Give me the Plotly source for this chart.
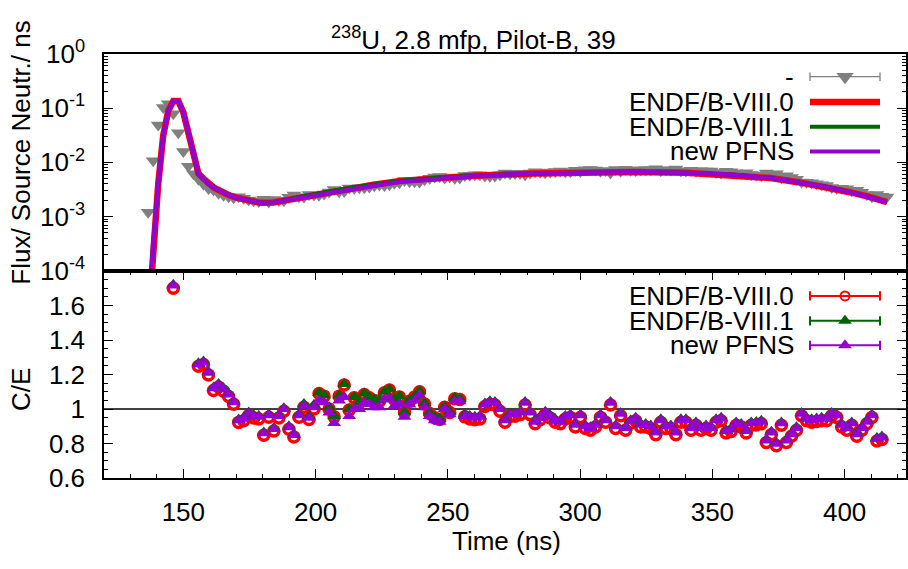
import plotly.graph_objects as go

W, H = 908, 569
FONT = "Liberation Sans, Arial, Helvetica, sans-serif"
FS = 26

# ---------------- data ----------------
# measured time spectrum (time bin centre, ns) and flux per source neutron per ns
T_EXP = [
    136.7, 138.6, 140.5, 142.4, 144.3, 146.2, 148.1, 150.0, 151.9, 153.8,
    155.7, 157.6, 159.5, 161.4, 163.3, 165.2, 167.1, 169.0, 170.9, 172.8,
    174.7, 176.6, 178.5, 180.4, 182.3, 184.2, 186.1, 188.0, 189.9, 191.8,
    193.7, 195.6, 197.5, 199.4, 201.3, 203.2, 205.1, 207.0, 208.9, 210.8,
    212.7, 214.6, 216.5, 218.4, 220.3, 222.2, 224.1, 226.0, 227.9, 229.8,
    231.7, 233.6, 235.5, 237.4, 239.3, 241.2, 243.1, 245.0, 246.9, 248.8,
    250.7, 252.6, 254.5, 256.4, 258.3, 260.2, 262.1, 264.0, 265.9, 267.8,
    269.7, 271.6, 273.5, 275.4, 277.3, 279.2, 281.1, 283.0, 284.9, 286.8,
    288.7, 290.6, 292.5, 294.4, 296.3, 298.2, 300.1, 302.0, 303.9, 305.8,
    307.7, 309.6, 311.5, 313.4, 315.3, 317.2, 319.1, 321.0, 322.9, 324.8,
    326.7, 328.6, 330.5, 332.4, 334.3, 336.2, 338.1, 340.0, 341.9, 343.8,
    345.7, 347.6, 349.5, 351.4, 353.3, 355.2, 357.1, 359.0, 360.9, 362.8,
    364.7, 366.6, 368.5, 370.4, 372.3, 374.2, 376.1, 378.0, 379.9, 381.8,
    383.7, 385.6, 387.5, 389.4, 391.3, 393.2, 395.1, 397.0, 398.9, 400.8,
    402.7, 404.6, 406.5, 408.4, 410.3, 412.2, 414.1, 416.0,
]
EXP = [
    1.2e-3, 1.07e-2, 4.9e-2, 0.102, 0.12, 0.079, 0.035, 0.0158, 8.5e-3, 6.2e-3,
    4.9e-3, 3.94e-3, 3.29e-3, 3.10e-3, 2.71e-3, 2.47e-3, 2.32e-3, 2.22e-3, 2.33e-3, 2.19e-3,
    2.02e-3, 1.97e-3, 1.90e-3, 2.09e-3, 1.87e-3, 2.07e-3, 1.98e-3, 1.96e-3, 2.28e-3, 2.51e-3,
    2.32e-3, 2.30e-3, 2.56e-3, 2.50e-3, 2.49e-3, 2.60e-3, 2.86e-3, 3.16e-3, 2.87e-3, 2.92e-3,
    3.36e-3, 3.32e-3, 3.41e-3, 3.40e-3, 3.52e-3, 3.69e-3, 3.81e-3, 3.76e-3, 3.85e-3, 4.13e-3,
    4.22e-3, 4.65e-3, 4.41e-3, 4.40e-3, 4.37e-3, 4.77e-3, 5.11e-3, 5.35e-3, 5.48e-3, 5.16e-3,
    5.40e-3, 5.08e-3, 5.16e-3, 5.70e-3, 5.81e-3, 5.93e-3, 5.94e-3, 5.58e-3, 5.56e-3, 5.63e-3,
    5.89e-3, 6.35e-3, 6.18e-3, 6.23e-3, 6.22e-3, 5.94e-3, 6.34e-3, 6.75e-3, 6.61e-3, 6.44e-3,
    6.62e-3, 6.82e-3, 6.92e-3, 6.75e-3, 6.71e-3, 7.15e-3, 6.78e-3, 7.28e-3, 7.38e-3, 7.23e-3,
    6.84e-3, 7.06e-3, 6.39e-3, 7.38e-3, 6.84e-3, 7.49e-3, 7.19e-3, 7.06e-3, 7.32e-3, 7.28e-3,
    7.34e-3, 7.63e-3, 7.01e-3, 7.28e-3, 7.24e-3, 7.52e-3, 6.92e-3, 6.90e-3, 7.19e-3, 6.90e-3,
    7.04e-3, 6.90e-3, 6.91e-3, 6.51e-3, 6.38e-3, 6.84e-3, 6.70e-3, 6.35e-3, 6.30e-3, 6.43e-3,
    6.00e-3, 5.88e-3, 5.73e-3, 6.37e-3, 5.91e-3, 6.18e-3, 5.21e-3, 5.66e-3, 5.26e-3, 4.89e-3,
    4.33e-3, 4.30e-3, 4.19e-3, 4.04e-3, 3.88e-3, 3.74e-3, 3.46e-3, 3.33e-3, 3.35e-3, 3.26e-3,
    3.01e-3, 3.08e-3, 2.82e-3, 2.57e-3, 2.33e-3, 2.55e-3, 2.37e-3, 2.30e-3,
]

# calculated spectra
T_CALC = [
    136.7, 138.6, 140.5, 142.4, 144.3, 146.2, 148.1, 150.0, 151.9, 153.8,
    155.7, 157.6, 159.5, 161.4, 163.3, 165.2, 167.1, 170.0, 174.0, 179.0,
    184.0, 190.0, 196.0, 203.0, 213.0, 222.0, 232.0, 245.0, 260.0, 282.0,
    300.0, 320.0, 340.0, 358.0, 372.0, 383.0, 393.0, 402.0, 409.0, 416.0,
]
CALC_B80 = [
    1.0e-5, 3.16e-4, 3.98e-3, 3.16e-2, 8.91e-2, 0.135, 0.135, 8.32e-2, 3.55e-2, 1.41e-2,
    6.2e-3, 5.01e-3, 3.98e-3, 3.47e-3, 3.09e-3, 2.75e-3, 2.51e-3, 2.24e-3, 2.00e-3, 1.80e-3,
    1.82e-3, 2.05e-3, 2.40e-3, 2.78e-3, 3.40e-3, 3.88e-3, 4.56e-3, 5.13e-3, 5.66e-3, 6.24e-3,
    6.53e-3, 6.68e-3, 6.46e-3, 5.89e-3, 5.13e-3, 4.27e-3, 3.55e-3, 2.82e-3, 2.34e-3, 1.86e-3,
]
CALC_B81 = [
    1.0e-5, 3.16e-4, 3.98e-3, 3.16e-2, 8.91e-2, 0.135, 0.135, 8.32e-2, 3.55e-2, 1.41e-2,
    6.2e-3, 5.01e-3, 3.98e-3, 3.47e-3, 3.09e-3, 2.75e-3, 2.51e-3, 2.24e-3, 2.00e-3, 1.80e-3,
    1.82e-3, 2.05e-3, 2.40e-3, 2.80e-3, 3.42e-3, 3.90e-3, 4.58e-3, 5.15e-3, 5.68e-3, 6.25e-3,
    6.54e-3, 6.69e-3, 6.47e-3, 5.90e-3, 5.14e-3, 4.28e-3, 3.56e-3, 2.83e-3, 2.35e-3, 1.87e-3,
]
CALC_NEW = [
    1.0e-5, 3.16e-4, 3.98e-3, 3.16e-2, 8.91e-2, 0.135, 0.135, 8.32e-2, 3.55e-2, 1.41e-2,
    6.2e-3, 5.01e-3, 3.98e-3, 3.47e-3, 3.09e-3, 2.75e-3, 2.51e-3, 2.24e-3, 2.00e-3, 1.80e-3,
    1.82e-3, 2.04e-3, 2.37e-3, 2.69e-3, 3.24e-3, 3.72e-3, 4.37e-3, 5.01e-3, 5.62e-3, 6.24e-3,
    6.53e-3, 6.68e-3, 6.46e-3, 5.89e-3, 5.13e-3, 4.27e-3, 3.55e-3, 2.82e-3, 2.34e-3, 1.86e-3,
]

# calculation / experiment ratios
T_CE = [
    146.2,
    155.7, 157.6, 159.5, 161.4, 163.3, 165.2, 167.1, 169.0, 170.9, 172.8,
    174.7, 176.6, 178.5, 180.4, 182.3, 184.2, 186.1, 188.0, 189.9, 191.8,
    193.7, 195.6, 197.5, 199.4, 201.3, 203.2, 205.1, 207.0, 208.9, 210.8,
    212.7, 214.6, 216.5, 218.4, 220.3, 222.2, 224.1, 226.0, 227.9, 229.8,
    231.7, 233.6, 235.5, 237.4, 239.3, 241.2, 243.1, 245.0, 246.9, 248.8,
    250.7, 252.6, 254.5, 256.4, 258.3, 260.2, 262.1, 264.0, 265.9, 267.8,
    269.7, 271.6, 273.5, 275.4, 277.3, 279.2, 281.1, 283.0, 284.9, 286.8,
    288.7, 290.6, 292.5, 294.4, 296.3, 298.2, 300.1, 302.0, 303.9, 305.8,
    307.7, 309.6, 311.5, 313.4, 315.3, 317.2, 319.1, 321.0, 322.9, 324.8,
    326.7, 328.6, 330.5, 332.4, 334.3, 336.2, 338.1, 340.0, 341.9, 343.8,
    345.7, 347.6, 349.5, 351.4, 353.3, 355.2, 357.1, 359.0, 360.9, 362.8,
    364.7, 366.6, 368.5, 370.4, 372.3, 374.2, 376.1, 378.0, 379.9, 381.8,
    383.7, 385.6, 387.5, 389.4, 391.3, 393.2, 395.1, 397.0, 398.9, 400.8,
    402.7, 404.6, 406.5, 408.4, 410.3, 412.2, 414.1,
]
CE_B80 = [
    1.70,
    1.248, 1.258, 1.198, 1.108, 1.128, 1.103, 1.073, 1.028, 0.923, 0.933,
    0.963, 0.948, 0.943, 0.848, 0.953, 0.873, 0.948, 0.988, 0.883, 0.838,
    0.953, 1.01, 0.94, 1.0, 1.09, 1.075, 1.0, 0.955, 1.075, 1.14,
    0.995, 1.065, 1.035, 1.085, 1.065, 1.05, 1.045, 1.095, 1.11, 1.055,
    1.07, 0.98, 1.045, 1.07, 1.1, 1.03, 0.975, 0.95, 0.94, 1.01,
    0.98, 1.06, 1.055, 0.955, 0.943, 0.938, 0.943, 1.015, 1.028, 1.024,
    0.988, 0.924, 0.958, 0.958, 0.968, 1.024, 0.968, 0.915, 0.938, 0.968,
    0.948, 0.924, 0.915, 0.943, 0.952, 0.897, 0.952, 0.888, 0.878, 0.897,
    0.952, 0.924, 1.024, 0.888, 0.961, 0.878, 0.918, 0.933, 0.897, 0.897,
    0.888, 0.852, 0.924, 0.888, 0.888, 0.852, 0.924, 0.924, 0.878, 0.906,
    0.878, 0.888, 0.878, 0.924, 0.933, 0.861, 0.87, 0.906, 0.897, 0.861,
    0.906, 0.908, 0.915, 0.806, 0.852, 0.788, 0.906, 0.806, 0.843, 0.878,
    0.961, 0.933, 0.924, 0.928, 0.933, 0.933, 0.961, 0.952, 0.897, 0.878,
    0.906, 0.843, 0.878, 0.915, 0.952, 0.815, 0.824,
]
CE_B81 = [
    1.72,
    1.265, 1.275, 1.215, 1.125, 1.145, 1.12, 1.09, 1.045, 0.94, 0.95,
    0.98, 0.965, 0.96, 0.865, 0.97, 0.89, 0.965, 1.005, 0.9, 0.855,
    0.97, 1.03, 0.96, 1.025, 1.095, 1.08, 1.01, 0.96, 1.08, 1.145,
    1.0, 1.07, 1.04, 1.09, 1.07, 1.055, 1.05, 1.10, 1.115, 1.06,
    1.075, 0.985, 1.05, 1.075, 1.105, 1.035, 0.98, 0.955, 0.945, 1.015,
    0.985, 1.065, 1.06, 0.97, 0.96, 0.955, 0.96, 1.032, 1.045, 1.041,
    1.005, 0.941, 0.975, 0.975, 0.985, 1.041, 0.985, 0.932, 0.955, 0.985,
    0.965, 0.941, 0.932, 0.96, 0.969, 0.914, 0.969, 0.905, 0.895, 0.914,
    0.969, 0.941, 1.041, 0.905, 0.978, 0.895, 0.935, 0.95, 0.914, 0.914,
    0.905, 0.869, 0.941, 0.905, 0.905, 0.869, 0.941, 0.941, 0.895, 0.923,
    0.895, 0.905, 0.895, 0.941, 0.95, 0.878, 0.887, 0.923, 0.914, 0.878,
    0.923, 0.925, 0.932, 0.823, 0.869, 0.805, 0.923, 0.823, 0.86, 0.895,
    0.978, 0.95, 0.941, 0.945, 0.95, 0.95, 0.978, 0.969, 0.914, 0.895,
    0.923, 0.86, 0.895, 0.932, 0.969, 0.832, 0.841,
]
CE_NEW = [
    1.715,
    1.26, 1.27, 1.21, 1.12, 1.14, 1.115, 1.085, 1.04, 0.935, 0.945,
    0.975, 0.96, 0.955, 0.86, 0.965, 0.885, 0.96, 1.0, 0.895, 0.85,
    0.965, 1.02, 0.95, 1.01, 1.05, 1.04, 0.98, 0.92, 1.05, 1.07,
    0.96, 1.0, 1.0, 1.035, 1.03, 1.01, 1.01, 1.055, 1.06, 1.02,
    1.03, 0.955, 1.027, 1.05, 1.08, 1.01, 0.96, 0.936, 0.927, 1.0,
    0.97, 1.045, 1.045, 0.96, 0.955, 0.95, 0.955, 1.027, 1.04, 1.036,
    1.0, 0.936, 0.97, 0.97, 0.98, 1.036, 0.98, 0.927, 0.95, 0.98,
    0.96, 0.936, 0.927, 0.955, 0.964, 0.909, 0.964, 0.9, 0.89, 0.909,
    0.964, 0.936, 1.036, 0.9, 0.973, 0.89, 0.93, 0.945, 0.909, 0.909,
    0.9, 0.864, 0.936, 0.9, 0.9, 0.864, 0.936, 0.936, 0.89, 0.918,
    0.89, 0.9, 0.89, 0.936, 0.945, 0.873, 0.882, 0.918, 0.909, 0.873,
    0.918, 0.92, 0.927, 0.818, 0.864, 0.8, 0.918, 0.818, 0.855, 0.89,
    0.973, 0.945, 0.936, 0.94, 0.945, 0.945, 0.973, 0.964, 0.909, 0.89,
    0.918, 0.855, 0.89, 0.927, 0.964, 0.827, 0.836,
]

FLUX_TICKS = [1e-4, 1e-3, 1e-2, 1e-1, 1.0]
FLUX_LABELS = ["10<sup>-4</sup>", "10<sup>-3</sup>", "10<sup>-2</sup>",
               "10<sup>-1</sup>", "10<sup>0</sup>"]
CE_TICKS = [0.6, 0.8, 1.0, 1.2, 1.4, 1.6]
CE_LABELS = ["0.6", "0.8", "1", "1.2", "1.4", "1.6"]
TIME_TICKS = [150, 200, 250, 300, 350, 400]

# ---------------- styles / geometry (pixels) ----------------
GREY, RED, GREEN, PURPLE = "#808080", "#ff0000", "#006400", "#9400d3"
L, R = 104, 906
TOP, MID, BOT = 38, 268.5, 488.5
X_RANGE = [120, 423.2]


def px(x):
    return x / W


def py(y):
    return 1 - y / H


fig = go.Figure()

# upper panel: spectra
fig.add_trace(go.Scatter(x=T_EXP, y=EXP, mode="markers", xaxis="x", yaxis="y",
                         marker=dict(symbol="triangle-down", size=13, color=GREY,
                                     line=dict(width=0))))
fig.add_trace(go.Scatter(x=T_CALC, y=CALC_B80, mode="lines", xaxis="x", yaxis="y",
                         line=dict(color=RED, width=6.5)))
fig.add_trace(go.Scatter(x=T_CALC, y=CALC_B81, mode="lines", xaxis="x", yaxis="y",
                         line=dict(color=GREEN, width=4)))
fig.add_trace(go.Scatter(x=T_CALC, y=CALC_NEW, mode="lines", xaxis="x", yaxis="y",
                         line=dict(color=PURPLE, width=4.5)))

# lower panel: C/E
fig.add_trace(go.Scatter(x=T_CE, y=CE_B80, mode="markers", xaxis="x2", yaxis="y2",
                         marker=dict(symbol="circle-open", size=10, color=RED,
                                     line=dict(width=3.5, color=RED))))
fig.add_trace(go.Scatter(x=T_CE, y=CE_B81, mode="markers", xaxis="x2", yaxis="y2",
                         marker=dict(symbol="triangle-up", size=12, color=GREEN,
                                     line=dict(width=0))))
fig.add_trace(go.Scatter(x=T_CE, y=CE_NEW, mode="markers", xaxis="x2", yaxis="y2",
                         marker=dict(symbol="triangle-up", size=12, color=PURPLE,
                                     line=dict(width=0))))

# key glyphs, drawn in a pixel-space overlay
SX0, SX1, SXM = 810, 880, 845
ROW_T = [62.3, 89.2, 115.5, 141.7]
ROW_B = [295, 321.5, 347.5]


def key_bar(y, color, width, cap):
    xs = [SX0, SX1, None, SX0, SX0, None, SX1, SX1] if cap else [SX0, SX1]
    ys = [y, y, None, y - cap, y + cap, None, y - cap, y + cap] if cap else [y, y]
    fig.add_trace(go.Scatter(x=xs, y=ys, mode="lines", xaxis="x3", yaxis="y3",
                             line=dict(color=color, width=width), cliponaxis=False))


key_bar(ROW_T[0], GREY, 1.3, 4.5)
key_bar(ROW_T[1], RED, 6.5, 0)
key_bar(ROW_T[2], GREEN, 4, 0)
key_bar(ROW_T[3], PURPLE, 4, 0)
key_bar(ROW_B[0], RED, 2, 5)
key_bar(ROW_B[1], GREEN, 2, 5)
key_bar(ROW_B[2], PURPLE, 2, 5)
fig.add_trace(go.Scatter(x=[SXM], y=[ROW_T[0]], mode="markers", xaxis="x3", yaxis="y3",
                         marker=dict(symbol="triangle-down", size=15, color=GREY)))
fig.add_trace(go.Scatter(x=[SXM], y=[ROW_B[0]], mode="markers", xaxis="x3", yaxis="y3",
                         marker=dict(symbol="circle-open", size=9, color=RED,
                                     line=dict(width=2, color=RED))))
fig.add_trace(go.Scatter(x=[SXM, SXM], y=[ROW_B[1], ROW_B[2]], mode="markers",
                         xaxis="x3", yaxis="y3",
                         marker=dict(symbol="triangle-up", size=12, color=[GREEN, PURPLE])))

key_text = [("-", ROW_T[0]), ("ENDF/B-VIII.0", ROW_T[1]), ("ENDF/B-VIII.1", ROW_T[2]),
            ("new PFNS", ROW_T[3]), ("ENDF/B-VIII.0", ROW_B[0]),
            ("ENDF/B-VIII.1", ROW_B[1]), ("new PFNS", ROW_B[2])]
annotations = [dict(text=t, x=px(795), y=py(y), xref="paper", yref="paper",
                    xanchor="right", yanchor="middle", showarrow=False,
                    height=24, borderpad=0,
                    font=dict(family=FONT, size=FS, color="black"))
               for t, y in key_text]
annotations += [
    dict(text="<sup>238</sup>U, 2.8 mfp, Pilot-B, 39", x=px(474), y=py(41),
         xref="paper", yref="paper", xanchor="center", yanchor="bottom",
         showarrow=False, font=dict(family=FONT, size=FS, color="black")),
    dict(text="Time (ns)", x=px(507), y=py(555), xref="paper", yref="paper",
         xanchor="center", yanchor="middle", showarrow=False,
         font=dict(family=FONT, size=FS, color="black")),
    dict(text="Flux/ Source Neutr./ ns", x=px(21), y=py(143), xref="paper", yref="paper",
         xanchor="center", yanchor="middle", textangle=-90, showarrow=False,
         font=dict(family=FONT, size=FS, color="black")),
    dict(text="C/E", x=px(21), y=py(395), xref="paper", yref="paper",
         xanchor="center", yanchor="middle", textangle=-90, showarrow=False,
         font=dict(family=FONT, size=FS, color="black")),
]

axis_common = dict(showline=True, linecolor="black", linewidth=1.5, showgrid=False,
                   zeroline=False, tickcolor="black", tickwidth=1.2,
                   tickfont=dict(family=FONT, size=FS, color="black"))

fig.update_layout(
    width=W, height=H, margin=dict(l=0, r=0, t=0, b=0),
    paper_bgcolor="white", plot_bgcolor="rgba(0,0,0,0)", showlegend=False,
    annotations=annotations,
    shapes=[dict(type="line", xref="x2 domain", yref="y2", x0=0, x1=1, y0=1, y1=1,
                 line=dict(color="black", width=1.5), layer="below")],
    xaxis=dict(domain=[px(L), px(R)], range=X_RANGE, anchor="y", showticklabels=False,
               ticks="", mirror=True, **{k: v for k, v in axis_common.items()
                                         if k != "tickfont"}),
    yaxis=dict(domain=[py(MID), py(TOP)], type="log", range=[-4, 0], anchor="x",
               tickmode="array", tickvals=FLUX_TICKS, ticktext=FLUX_LABELS,
               ticks="inside", ticklen=9, mirror="ticks", ticklabelstandoff=12,
               minor=dict(ticks="inside", ticklen=4.5, dtick="D1", tickcolor="black",
                          tickwidth=1.2, showgrid=False),
               **axis_common),
    xaxis2=dict(domain=[px(L), px(R)], range=X_RANGE, anchor="y2",
                tickmode="array", tickvals=TIME_TICKS,
                ticks="inside", ticklen=9, mirror="ticks", ticklabelstandoff=10,
                minor=dict(ticks="inside", ticklen=4.5, dtick=10, tick0=0,
                           tickcolor="black", tickwidth=1.2, showgrid=False),
                **axis_common),
    yaxis2=dict(domain=[py(BOT), py(MID)], range=[0.6, 1.8], anchor="x2",
                tickmode="array", tickvals=CE_TICKS, ticktext=CE_LABELS,
                ticks="inside", ticklen=9, mirror="ticks", ticklabelstandoff=12,
                minor=dict(ticks="inside", ticklen=4.5, dtick=0.05, tick0=0.6,
                           tickcolor="black", tickwidth=1.2, showgrid=False),
                **axis_common),
    xaxis3=dict(domain=[0, 1], range=[0, W], anchor="y3", visible=False, fixedrange=True),
    yaxis3=dict(domain=[0, 1], range=[H, 0], anchor="x3", visible=False, fixedrange=True),
)

fig.write_html("out.html")
